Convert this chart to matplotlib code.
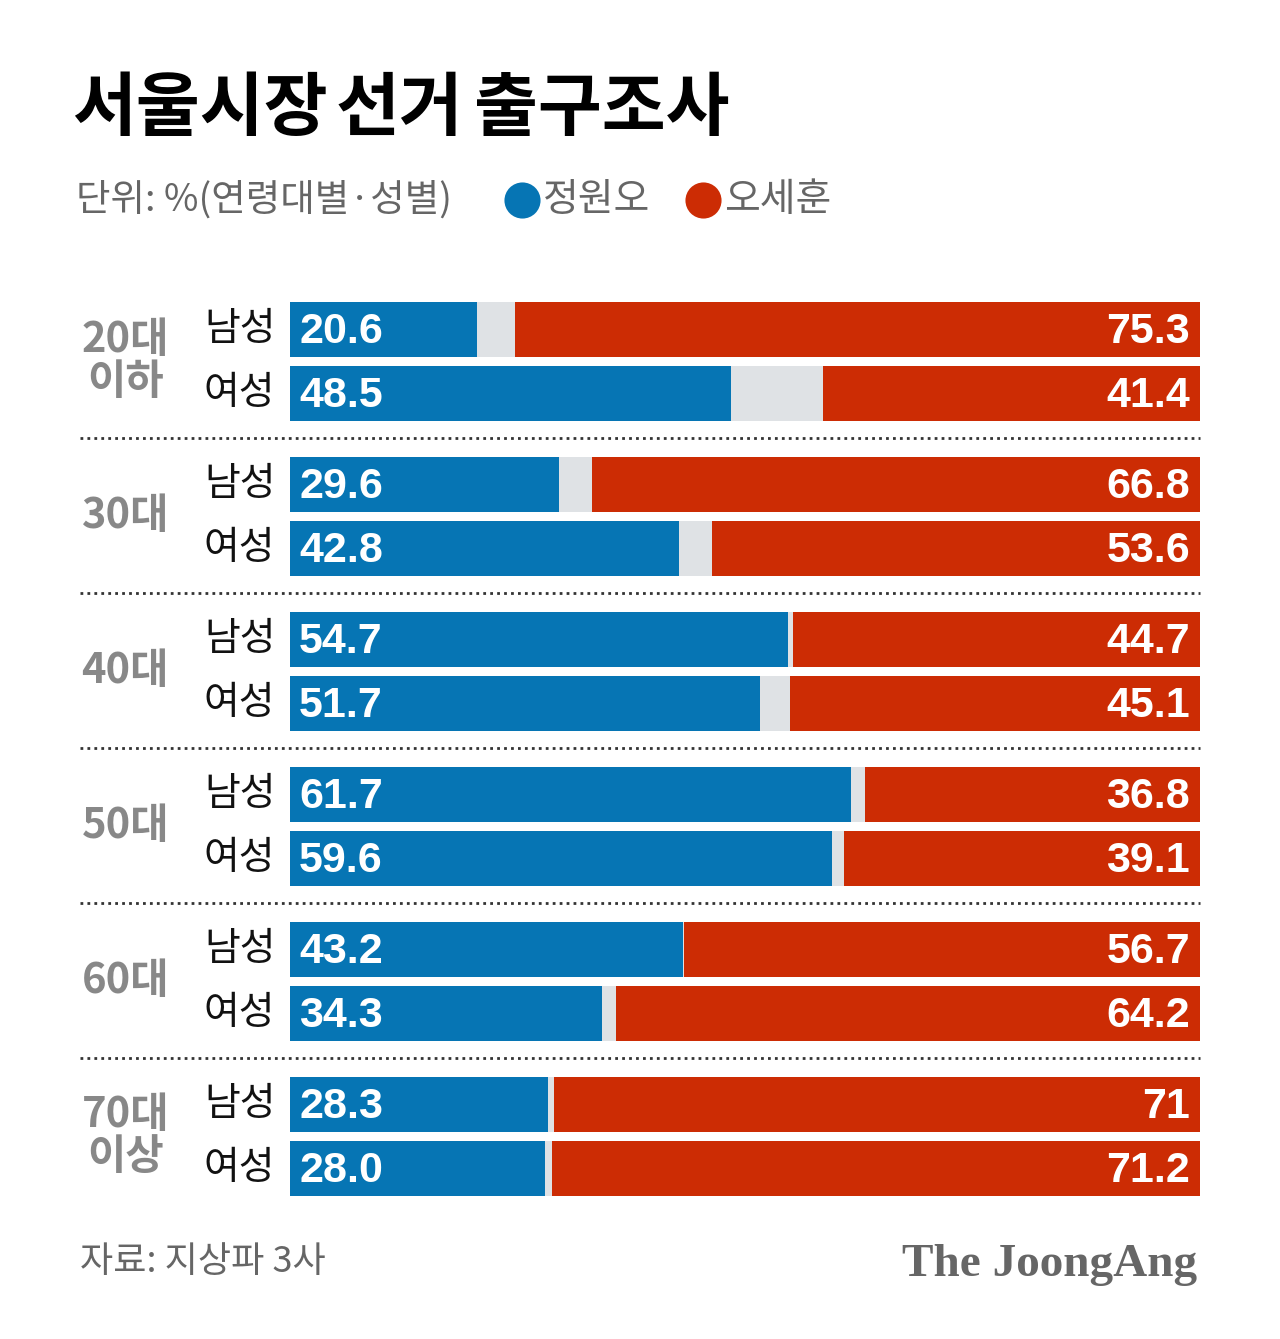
import matplotlib.pyplot as plt
from matplotlib.lines import Line2D

KR = ['Noto Sans CJK KR', 'DejaVu Sans']
plt.rcParams['font.family'] = KR

ages = ['20대\n이하', '30대', '40대', '50대', '60대', '70대\n이상']
genders = ['남성', '여성']
jung_men = [20.6, 29.6, 54.7, 61.7, 43.2, 28.3]
jung_women = [48.5, 42.8, 51.7, 59.6, 34.3, 28.0]
oh_men = [75.3, 66.8, 44.7, 36.8, 56.7, 71]
oh_women = [41.4, 53.6, 45.1, 39.1, 64.2, 71.2]
title_words = ['서울시장', '선거', '출구조사']

BLUE = '#0675b4'
RED = '#cc2c04'
GAP = '#dfe2e5'

W, H = 1280, 1339
fig = plt.figure(figsize=(W / 100, H / 100), dpi=100)
fig.patch.set_facecolor('white')

def fx(x):
    return x / W

def fy(y):
    return 1 - y / H

# bar area in pixel-like units: x 290..1200, y 260..1220
ax = fig.add_axes([fx(290), fy(1220), (1200 - 290) / W, (1220 - 260) / H])
ax.set_xlim(0, 100)
ax.set_ylim(1220, 260)
ax.axis('off')

step, inner, bh = 155, 64, 55
for i, age in enumerate(ages):
    rows = [(jung_men[i], oh_men[i]), (jung_women[i], oh_women[i])]
    for j, (jv, ov) in enumerate(rows):
        y = 329 + step * i + inner * j
        ax.barh(y, 100, height=bh, color=GAP, edgecolor='none')
        ax.barh(y, jv, height=bh, color=BLUE, edgecolor='none')
        ax.barh(y, ov, left=100 - ov, height=bh, color=RED, edgecolor='none')
        ax.text(1.0, y + 3, f'{jv:.1f}', color='white', fontsize=31,
                fontweight='bold', family='Liberation Sans', ha='left', va='center')
        ax.text(98.9, y + 3, str(ov), color='white', fontsize=31,
                fontweight='bold', family='Liberation Sans', ha='right', va='center')
        ax.text(-1.6, y, genders[j], color='#111111', fontsize=28,
                ha='right', va='center', clip_on=False)
    yc = 329 + step * i + inner / 2
    ax.text(-18.1, yc, age, color='#888888', fontsize=30, fontweight='bold',
            ha='center', va='center', linespacing=1.0, clip_on=False)

# dotted separators
for k in range(len(ages) - 1):
    y = 438 + step * k
    fig.add_artist(Line2D([fx(80), fx(1200)], [fy(y), fy(y)], transform=fig.transFigure,
                          color='#333333', lw=2, linestyle=(0, (1, 1.5))))

# title, words placed with tight spacing
for xw, word in zip([72, 336, 474], title_words):
    fig.text(fx(xw), fy(110), word, fontsize=50, fontweight='heavy',
             color='black', ha='left', va='center')
fig.text(fx(76), fy(200), '단위: %(연령대별·성별)', fontsize=27, color='#666666',
         ha='left', va='center')

# legend
for xc, name, c in [(522, '정원오', BLUE), (703, '오세훈', RED)]:
    fig.add_artist(Line2D([fx(xc)], [fy(200)], transform=fig.transFigure, marker='o',
                          markersize=26, color=c, markeredgewidth=0))
    fig.text(fx(xc + 21), fy(200), name, fontsize=28, color='#666666',
             ha='left', va='center')

# footer
fig.text(fx(80), fy(1262), '자료: 지상파 3사', fontsize=26, color='#666666',
         ha='left', va='center')
fig.text(fx(1197), fy(1265), 'The JoongAng', fontsize=34, fontweight='bold',
         family='Liberation Serif', color='#666666', ha='right', va='center')

fig.savefig('out.png', dpi=100)
